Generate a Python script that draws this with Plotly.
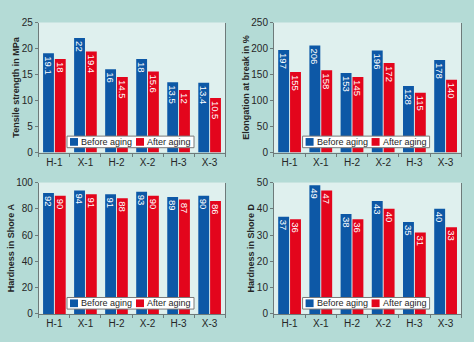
import plotly.graph_objects as go

samples = ["H-1", "X-1", "H-2", "X-2", "H-3", "X-3"]

tensile_before = [19.1, 22, 16, 18, 13.5, 13.4]
tensile_after = [18, 19.4, 14.5, 15.6, 12, 10.5]

elong_before = [197, 206, 153, 196, 128, 178]
elong_after = [155, 158, 145, 172, 115, 140]

shoreA_before = [92, 94, 91, 93, 89, 90]
shoreA_after = [90, 91, 88, 90, 87, 86]

shoreD_before = [37, 49, 38, 43, 35, 40]
shoreD_after = [36, 47, 36, 40, 31, 33]

series_names = ["Before aging", "After aging"]

W, H = 474, 342
BLUE = "#0d58a6"
RED = "#e3051c"
AXIS = "#6d7a7a"
INK = "#262626"
FONT = "Liberation Sans, Arial, sans-serif"

panels = [
    dict(before=tensile_before, after=tensile_after, title="Tensile strength in MPa",
         rng=[0, 25], dtick=5, x=[0.082, 0.475], y=[0.556, 0.95]),
    dict(before=elong_before, after=elong_after, title="Elongation at break in %",
         rng=[0, 250], dtick=50, x=[0.578, 0.973], y=[0.556, 0.95]),
    dict(before=shoreA_before, after=shoreA_after, title="Hardness in Shore A",
         rng=[0, 100], dtick=20, x=[0.082, 0.475], y=[0.067, 0.465]),
    dict(before=shoreD_before, after=shoreD_after, title="Hardness in Shore D",
         rng=[0, 50], dtick=10, x=[0.578, 0.973], y=[0.067, 0.465]),
]

fig = go.Figure()
layout = {}
shapes = []
annotations = []


def px_x(cx, dx):
    return cx + dx / W


def px_y(by, dy):
    return by + dy / H


for i, p in enumerate(panels, start=1):
    sfx = "" if i == 1 else str(i)
    for name, vals, color in [(series_names[0], p["before"], BLUE),
                              (series_names[1], p["after"], RED)]:
        fig.add_trace(go.Bar(
            x=samples, y=vals, name=name, showlegend=False,
            marker=dict(color=color, line=dict(width=0)),
            text=[f"{v:g}" for v in vals],
            textposition="inside", insidetextanchor="end", textangle=90,
            textfont=dict(color="white", size=9.5, family=FONT),
            xaxis=f"x{sfx}", yaxis=f"y{sfx}",
        ))
    layout[f"xaxis{sfx}"] = dict(
        domain=p["x"], anchor=f"y{sfx}", showline=True, linecolor=AXIS,
        linewidth=1, ticks="outside", tickson="boundaries", ticklen=3,
        tickcolor=AXIS, tickfont=dict(size=10, color=INK, family=FONT),
        showgrid=False, mirror=False,
    )
    layout[f"yaxis{sfx}"] = dict(
        domain=p["y"], anchor=f"x{sfx}", range=p["rng"], dtick=p["dtick"],
        showline=True, linecolor=AXIS, linewidth=1, mirror=True,
        ticks="outside", ticklen=3, tickcolor=AXIS, showgrid=False,
        zeroline=False, tickfont=dict(size=10, color=INK, family=FONT),
        title=dict(text=f"<b>{p['title']}</b>", standoff=0,
                   font=dict(size=9, color=INK, family=FONT)),
    )

    # compact boxed key near the bottom of each panel
    cx = (p["x"][0] + p["x"][1]) / 2
    by = p["y"][0]
    shapes.append(dict(type="rect", xref="paper", yref="paper",
                       x0=px_x(cx, -65), x1=px_x(cx, 62),
                       y0=px_y(by, 5), y1=px_y(by, 17),
                       fillcolor="white", line=dict(color="#7a7a7a", width=1)))
    for dx, color, label in [(-62, BLUE, series_names[0]), (4, RED, series_names[1])]:
        shapes.append(dict(type="rect", xref="paper", yref="paper",
                           x0=px_x(cx, dx), x1=px_x(cx, dx + 8),
                           y0=px_y(by, 7), y1=px_y(by, 15),
                           fillcolor=color, line=dict(width=0)))
        annotations.append(dict(text=label, xref="paper", yref="paper",
                                x=px_x(cx, dx + 9), y=px_y(by, 11),
                                xanchor="left", yanchor="middle", showarrow=False,
                                font=dict(size=9, color=INK, family=FONT)))

fig.update_layout(
    **layout,
    shapes=shapes, annotations=annotations,
    width=W, height=H, margin=dict(l=0, r=0, t=0, b=0),
    paper_bgcolor="#b4dbd6", plot_bgcolor="#dff0ee",
    barmode="group", bargap=0.24, bargroupgap=0.08,
    font=dict(family=FONT),
    uniformtext=dict(minsize=8, mode="show"),
)

fig.write_html("out.html")
